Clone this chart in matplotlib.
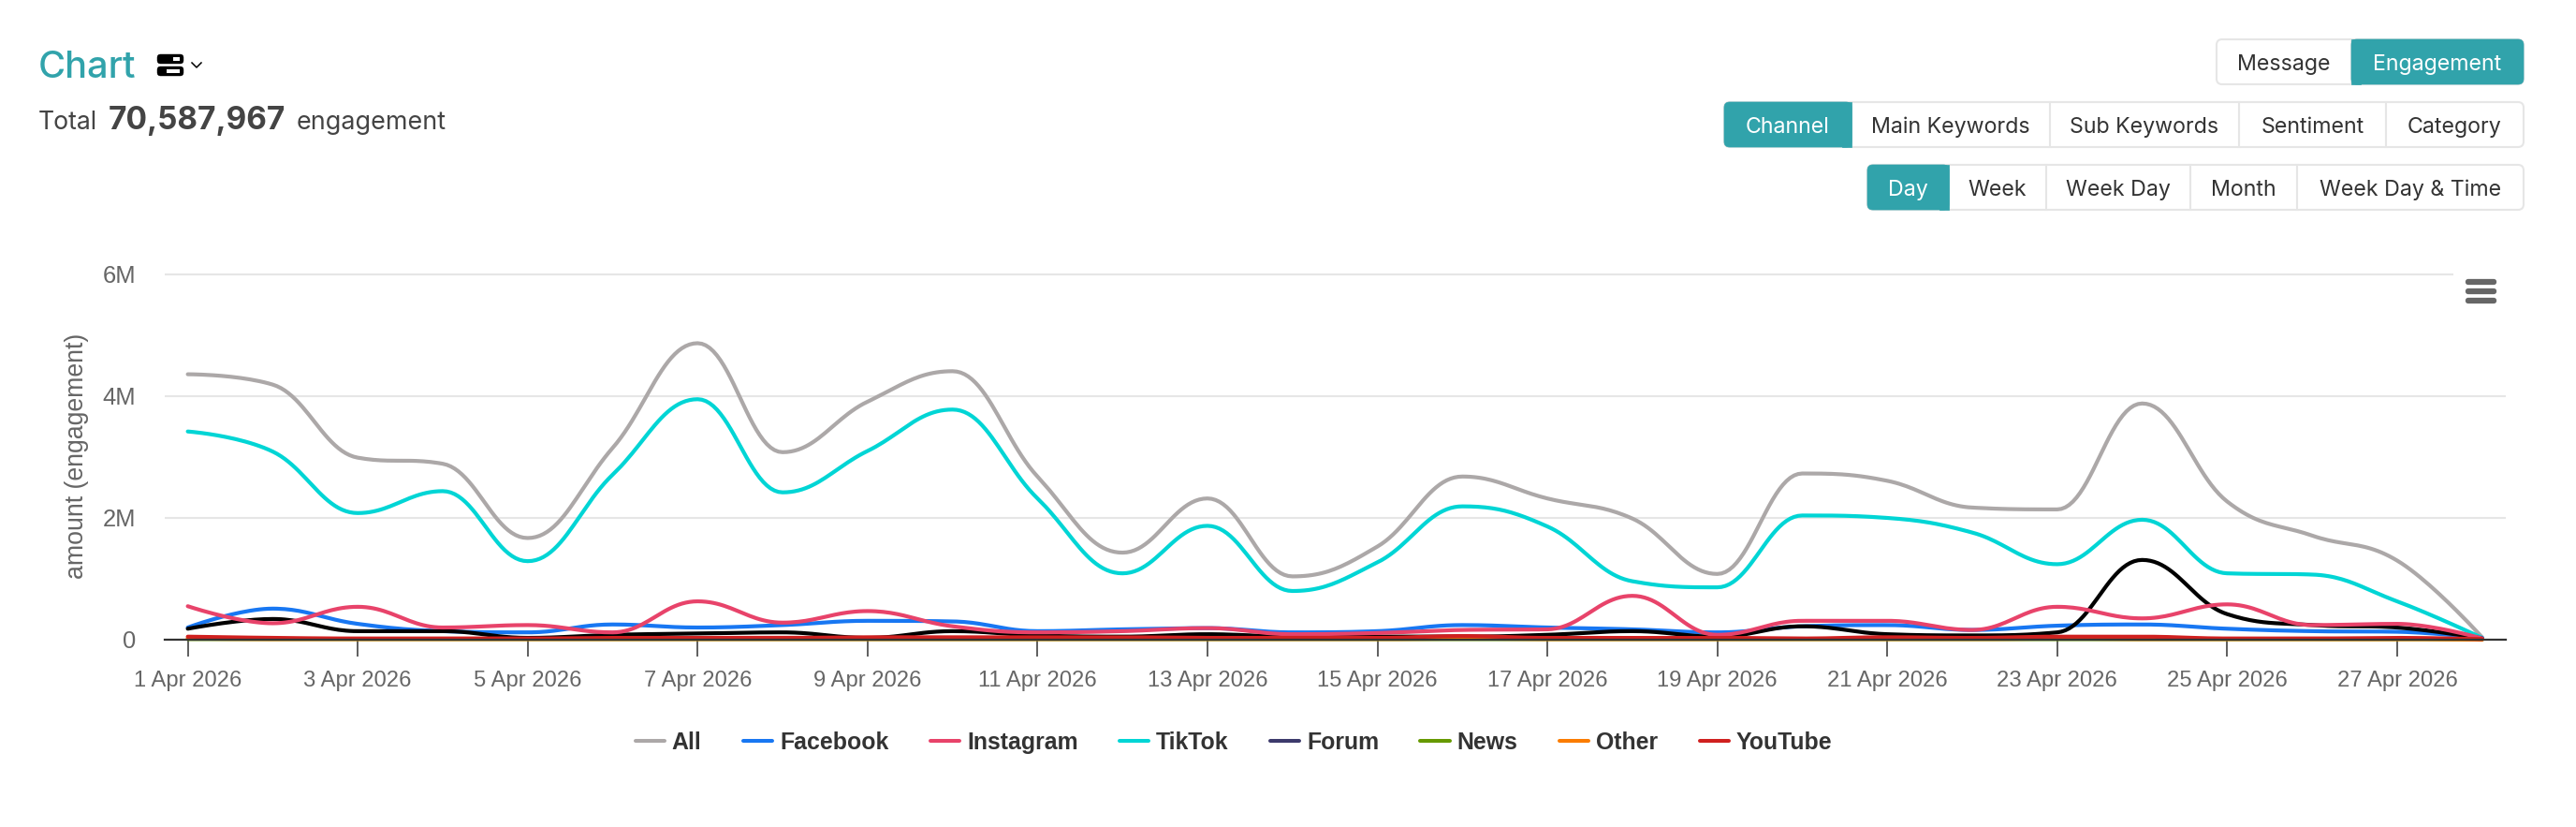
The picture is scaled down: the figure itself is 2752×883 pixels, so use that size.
import numpy as np
import pandas as pd
import matplotlib
matplotlib.use("Agg")
import matplotlib.pyplot as plt
import matplotlib.dates as mdates
from matplotlib.lines import Line2D
from matplotlib.patches import FancyBboxPatch, Rectangle

W, H = 2752, 883
TEAL = "#31a3ab"
SERIF = "Liberation Sans"
UI = "Inter"

# ---------- data (millions of engagements per day, 1-28 Apr 2026) ----------
dates = pd.date_range("2026-04-01", "2026-04-28", freq="D")
all_ = [4.36, 4.19, 2.99, 2.89, 1.67, 3.15, 4.87, 3.08, 3.91, 4.41, 2.68, 1.43, 2.32, 1.04,
        1.53, 2.68, 2.32, 1.99, 1.08, 2.73, 2.61, 2.17, 2.14, 3.88, 2.27, 1.71, 1.30, 0.04]
facebook = [0.20, 0.51, 0.26, 0.14, 0.12, 0.25, 0.20, 0.24, 0.31, 0.30, 0.14, 0.17, 0.19, 0.12,
            0.14, 0.24, 0.20, 0.17, 0.12, 0.22, 0.24, 0.16, 0.23, 0.25, 0.18, 0.14, 0.13, 0.03]
instagram = [0.55, 0.27, 0.54, 0.20, 0.24, 0.12, 0.63, 0.28, 0.47, 0.22, 0.12, 0.14, 0.19, 0.09,
             0.11, 0.16, 0.17, 0.72, 0.08, 0.31, 0.31, 0.16, 0.54, 0.35, 0.58, 0.24, 0.26, 0.02]
tiktok = [3.42, 3.09, 2.08, 2.44, 1.29, 2.71, 3.95, 2.42, 3.10, 3.78, 2.32, 1.09, 1.87, 0.80,
          1.27, 2.19, 1.86, 0.96, 0.86, 2.04, 2.00, 1.76, 1.24, 1.97, 1.09, 1.07, 0.63, 0.03]
forum = [0.18, 0.34, 0.14, 0.14, 0.03, 0.08, 0.10, 0.12, 0.03, 0.14, 0.07, 0.05, 0.09, 0.05,
         0.05, 0.05, 0.08, 0.14, 0.05, 0.22, 0.09, 0.07, 0.12, 1.31, 0.42, 0.24, 0.20, 0.02]
news = [0.01, 0.01, 0.01, 0.01, 0.01, 0.01, 0.01, 0.01, 0.01, 0.01, 0.01, 0.01, 0.01, 0.01,
        0.01, 0.01, 0.01, 0.01, 0.01, 0.01, 0.01, 0.01, 0.01, 0.01, 0.01, 0.01, 0.01, 0.00]
other = [0.02, 0.01, 0.01, 0.01, 0.01, 0.01, 0.01, 0.01, 0.01, 0.01, 0.01, 0.01, 0.01, 0.01,
         0.01, 0.02, 0.01, 0.01, 0.01, 0.01, 0.01, 0.01, 0.02, 0.01, 0.01, 0.01, 0.01, 0.00]
youtube = [0.05, 0.03, 0.02, 0.02, 0.02, 0.03, 0.03, 0.03, 0.04, 0.04, 0.04, 0.04, 0.03, 0.03,
           0.03, 0.06, 0.03, 0.03, 0.03, 0.02, 0.04, 0.03, 0.05, 0.05, 0.02, 0.02, 0.03, 0.01]

legend_names = ["All", "Facebook", "Instagram", "TikTok", "Forum", "News", "Other", "YouTube"]
legend_colors = ["#aca8a8", "#1877f2", "#e8436a", "#00d5d5", "#3c3a6c", "#669900", "#fb7c00", "#d0201f"]
y_ticks = [0, 2, 4, 6]
y_tick_labels = ["0", "2M", "4M", "6M"]


def spline(x, y, n=24):
    """Highcharts-style smoothed Bezier through the data points."""
    x, y = np.asarray(x, float), np.asarray(y, float)
    xs, ys = [x[0]], [y[0]]
    m = len(x)
    left = np.zeros((m, 2))
    right = np.zeros((m, 2))
    for i in range(m):
        left[i] = (x[i], y[i])
        right[i] = (x[i], y[i])
        if 0 < i < m - 1:
            lx = (1.5 * x[i] + x[i - 1]) / 2.5
            ly = (1.5 * y[i] + y[i - 1]) / 2.5
            rx = (1.5 * x[i] + x[i + 1]) / 2.5
            ry = (1.5 * y[i] + y[i + 1]) / 2.5
            c = (ry - ly) * (rx - x[i]) / (rx - lx) + y[i] - ry
            ly += c
            ry += c
            if ly > y[i - 1] and ly > y[i]:
                ly = max(y[i - 1], y[i]); ry = 2 * y[i] - ly
            elif ly < y[i - 1] and ly < y[i]:
                ly = min(y[i - 1], y[i]); ry = 2 * y[i] - ly
            if ry > y[i + 1] and ry > y[i]:
                ry = max(y[i + 1], y[i]); ly = 2 * y[i] - ry
            elif ry < y[i + 1] and ry < y[i]:
                ry = min(y[i + 1], y[i]); ly = 2 * y[i] - ry
            left[i] = (lx, ly)
            right[i] = (rx, ry)
    t = np.linspace(0, 1, n + 1)[1:]
    for i in range(m - 1):
        p0, p1, p2, p3 = np.array([x[i], y[i]]), right[i], left[i + 1], np.array([x[i + 1], y[i + 1]])
        b = (((1 - t) ** 3)[:, None] * p0 + (3 * (1 - t) ** 2 * t)[:, None] * p1
             + (3 * (1 - t) * t ** 2)[:, None] * p2 + (t ** 3)[:, None] * p3)
        xs.extend(b[:, 0]); ys.extend(b[:, 1])
    return np.array(xs), np.array(ys)


fig = plt.figure(figsize=(W / 100, H / 100), dpi=100, facecolor="white")

# ---------- main chart ----------
AX_L, AX_R, AX_T, AX_B = 176, 2676.5, 293, 683
X0, DAY = 200.6, 90.78
ax = fig.add_axes([AX_L / W, 1 - AX_B / H, (AX_R - AX_L) / W, (AX_B - AX_T) / H])
xnum = mdates.date2num(dates)
ax.set_xlim(xnum[0] + (AX_L - X0) / DAY, xnum[0] + (AX_R - X0) / DAY)
ax.set_ylim(0, 6)

grid_kw = dict(color="#e6e6e6", lw=1.5, zorder=1, clip_on=False)
ax.hlines([2, 4], *ax.get_xlim(), **grid_kw)
ax.hlines([6], ax.get_xlim()[0], xnum[0] + (2621 - X0) / DAY, **grid_kw)

line_kw = dict(lw=3.0, solid_capstyle="round", solid_joinstyle="round", clip_on=False)
for vals, col, z in [(all_, legend_colors[0], 3), (tiktok, legend_colors[3], 4),
                     (facebook, legend_colors[1], 5), (forum, "#000000", 6),
                     (instagram, legend_colors[2], 7), (news, legend_colors[5], 8),
                     (other, legend_colors[6], 9), (youtube, legend_colors[7], 10)]:
    sx, sy = spline(xnum, vals)
    ax.plot(sx, sy, color=col, zorder=z, **line_kw)

for s in ("top", "right", "left"):
    ax.spines[s].set_visible(False)
ax.spines["bottom"].set_color("#333333")
ax.spines["bottom"].set_linewidth(1.6)
ax.spines["bottom"].set_zorder(20)

ax.set_xticks(xnum[::2][:14])
ax.xaxis.set_major_formatter(mdates.DateFormatter("%-d %b %Y"))
ax.tick_params(axis="x", length=13, width=1.1, color="#333333", labelcolor="#666666",
               labelsize=17.1, pad=11)
ax.set_yticks(y_ticks)
ax.set_yticklabels(y_tick_labels)
ax.tick_params(axis="y", length=0, labelcolor="#666666", labelsize=18.4, pad=22)
for lab in ax.get_xticklabels() + ax.get_yticklabels():
    lab.set_family(SERIF)
ax.set_ylabel("amount (engagement)", family=SERIF, fontsize=19.2, color="#666666")
ax.yaxis.set_label_coords((95 - AX_L) / (AX_R - AX_L), (AX_B - 487) / (AX_B - AX_T))

handles = [Line2D([], [], color=c, lw=2.9, solid_capstyle="round") for c in legend_colors]
leg = ax.legend(handles, legend_names, ncol=8, frameon=False, loc="center",
                bbox_to_anchor=(1318 / W, 1 - 793 / H), bbox_transform=fig.transFigure,
                prop={"family": SERIF, "weight": "bold", "size": 17.9},
                handlelength=1.26, handletextpad=0.32, columnspacing=1.78, borderpad=0, borderaxespad=0)
for t in leg.get_texts():
    t.set_color("#333333")

# ---------- page furniture, drawn in pixel coordinates ----------
ov = fig.add_axes([0, 0, 1, 1], zorder=5)
ov.set_xlim(0, W); ov.set_ylim(H, 0); ov.axis("off"); ov.patch.set_alpha(0)


def rbox(x0, y0, x1, y1, r, **kw):
    ov.add_patch(FancyBboxPatch((x0 + r, y0 + r), x1 - x0 - 2 * r, y1 - y0 - 2 * r,
                                boxstyle=f"round,pad={r},rounding_size={r}", **kw))


def button_row(edges, labels, active, y0, y1):
    rbox(edges[0], y0, edges[-1], y1, 6, fc="white", ec="#e6e6e6", lw=1.5, zorder=1)
    for e in edges[1:-1]:
        ov.plot([e, e], [y0, y1], color="#e6e6e6", lw=1.5, zorder=2)
    a0, a1 = edges[active], edges[active + 1]
    rbox(a0, y0, a1, y1, 6, fc=TEAL, ec=TEAL, lw=0.5, zorder=3)
    if active == 0:
        ov.add_patch(Rectangle((a1 - 10, y0), 10, y1 - y0, fc=TEAL, ec=TEAL, lw=0.5, zorder=3))
    else:
        ov.add_patch(Rectangle((a0, y0), 10, y1 - y0, fc=TEAL, ec=TEAL, lw=0.5, zorder=3))
    for i, lab in enumerate(labels):
        ov.text((edges[i] + edges[i + 1]) / 2, (y0 + y1) / 2 + 0.5, lab, ha="center", va="center_baseline",
                family=UI, fontsize=16.7, color="white" if i == active else "#333333", zorder=4)


button_row([2368, 2512, 2696], ["Message", "Engagement"], 1, 42, 90)
button_row([1842, 1978, 2190, 2392, 2548.6, 2696],
           ["Channel", "Main Keywords", "Sub Keywords", "Sentiment", "Category"], 0, 109, 157)
button_row([1995, 2082, 2185.6, 2340, 2454, 2696],
           ["Day", "Week", "Week Day", "Month", "Week Day & Time"], 0, 176, 224)

ov.text(41, 83, "Chart", family=UI, fontsize=28.6, weight=500, color=TEAL, va="baseline")
ov.text(41, 138, "Total", family=UI, fontsize=19.2, color="#444444", va="baseline")
ov.text(116, 138, "70,587,967", family=UI, fontsize=24, weight="bold", color="#444444", va="baseline")
ov.text(317, 138, "engagement", family=UI, fontsize=19.4, color="#444444", va="baseline")

# server-style icon and chevron
for y0 in (58, 71):
    rbox(168, y0, 196, y0 + 10, 3.5, fc="black", ec="black", lw=0.3, zorder=2)
ov.add_patch(Rectangle((185, 61), 7, 4, fc="white", ec="none", zorder=3))
ov.add_patch(Rectangle((178, 74), 14, 4, fc="white", ec="none", zorder=3))
ov.plot([205, 210, 215], [67, 72, 67], color="black", lw=1.1, zorder=3)

# chart context-menu icon
for y0 in (298, 308, 318):
    rbox(2634, y0, 2667, y0 + 6, 2.8, fc="#666666", ec="#666666", lw=0.2, zorder=2)

fig.savefig("out.png", dpi=100, facecolor="white")
